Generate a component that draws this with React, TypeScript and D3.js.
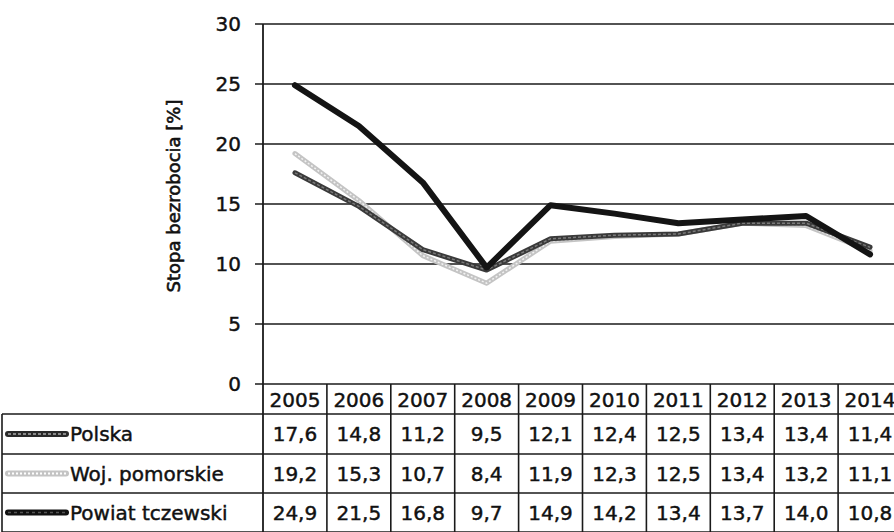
import React from "react";
import * as d3 from "d3";

const years = ["2005", "2006", "2007", "2008", "2009", "2010", "2011", "2012", "2013", "2014"];
const polska = [17.6, 14.8, 11.2, 9.5, 12.1, 12.4, 12.5, 13.4, 13.4, 11.4];
const pomorskie = [19.2, 15.3, 10.7, 8.4, 11.9, 12.3, 12.5, 13.4, 13.2, 11.1];
const tczewski = [24.9, 21.5, 16.8, 9.7, 14.9, 14.2, 13.4, 13.7, 14.0, 10.8];
const seriesNames = ["Polska", "Woj. pomorskie", "Powiat tczewski"];
const yTicks = [0, 5, 10, 15, 20, 25, 30];
const yTitle = "Stopa bezrobocia [%]";

const W = 894;
const H = 532;
const FONT = "'DejaVu Sans', Verdana, sans-serif";

export default function App() {
  const x0 = 263;
  const x1 = 902;
  const yTop = 24;
  const yBot = 384;
  const x = d3.scaleBand<string>().domain(years).range([x0, x1]);
  const y = d3.scaleLinear().domain([0, 30]).range([yBot, yTop]);
  const line = d3
    .line<number>()
    .x((_, i) => (x(years[i]) as number) + x.bandwidth() / 2)
    .y((d) => y(d));

  const headerBottom = 414;
  const rowBounds = [414, 454, 493, 532];
  const data = [polska, pomorskie, tczewski];
  const fmt = (v: number) => v.toFixed(1).replace(".", ",");
  const ink = "#1a1a1a";
  const txt = { fill: "#111", stroke: "#111", strokeWidth: 0.45 };

  const legendSample = (i: number, cy: number) => {
    const xa = 8;
    const xb = 66;
    if (i === 0)
      return (
        <g>
          <line x1={xa} x2={xb} y1={cy} y2={cy} stroke="#2a2a2a" strokeWidth={6} strokeLinecap="round" />
          <line x1={xa} x2={xb} y1={cy} y2={cy} stroke="#8a8a8a" strokeWidth={2} strokeDasharray="3,2" />
        </g>
      );
    if (i === 1)
      return (
        <g>
          <line x1={xa} x2={xb} y1={cy} y2={cy} stroke="#c4c4c4" strokeWidth={6} strokeLinecap="round" />
          <line x1={xa} x2={xb} y1={cy} y2={cy} stroke="#ffffff" strokeWidth={2} strokeDasharray="2,2" />
        </g>
      );
    return (
      <g>
        <line x1={xa} x2={xb} y1={cy} y2={cy} stroke="#111" strokeWidth={6} strokeLinecap="round" />
        <line x1={xa} x2={xb} y1={cy} y2={cy} stroke="#555" strokeWidth={1.5} strokeDasharray="3,3" />
      </g>
    );
  };

  return (
    <svg
      width={W}
      height={H}
      style={{ position: "absolute", left: 0, top: 0, background: "#fff" }}
      fontFamily={FONT}
    >
      {/* gridlines + ticks */}
      {yTicks.map((t) => (
        <g key={t}>
          <line x1={x0 - 8} x2={W} y1={y(t)} y2={y(t)} stroke={ink} strokeWidth={1.7} />
          <text x={241} y={y(t)} textAnchor="end" dominantBaseline="central" fontSize={20} {...txt}>
            {t}
          </text>
        </g>
      ))}
      {/* y axis */}
      <line x1={x0} x2={x0} y1={yTop} y2={H} stroke={ink} strokeWidth={1.8} />
      <text
        transform={`translate(173,196) rotate(-90)`}
        textAnchor="middle"
        dominantBaseline="central"
        fontSize={18}
        {...txt}
        strokeWidth={0.6}
      >
        {yTitle}
      </text>

      {/* series lines */}
      <path d={line(pomorskie) || ""} fill="none" stroke="#c4c4c4" strokeWidth={5} strokeLinejoin="round" strokeLinecap="round" />
      <path d={line(pomorskie) || ""} fill="none" stroke="#f2f2f2" strokeWidth={1.5} strokeDasharray="2,2" />
      <path d={line(polska) || ""} fill="none" stroke="#3a3a3a" strokeWidth={5} strokeLinejoin="round" strokeLinecap="round" />
      <path d={line(polska) || ""} fill="none" stroke="#7a7a7a" strokeWidth={1.5} strokeDasharray="3,2" />
      <path d={line(tczewski) || ""} fill="none" stroke="#141414" strokeWidth={6} strokeLinejoin="round" strokeLinecap="round" />

      {/* table: header row */}
      <line x1={x0} x2={W} y1={headerBottom} y2={headerBottom} stroke={ink} strokeWidth={1.6} />
      {years.map((yr) => (
        <g key={yr}>
          <line
            x1={(x(yr) as number) + x.bandwidth()}
            x2={(x(yr) as number) + x.bandwidth()}
            y1={yBot}
            y2={H}
            stroke={ink}
            strokeWidth={1.6}
          />
          <text
            x={(x(yr) as number) + x.bandwidth() / 2}
            y={(yBot + headerBottom) / 2 + 1}
            textAnchor="middle"
            dominantBaseline="central"
            fontSize={20}
            {...txt}
          >
            {yr}
          </text>
        </g>
      ))}
      {/* table: left column + rows */}
      <line x1={2} x2={2} y1={headerBottom} y2={H} stroke={ink} strokeWidth={1.6} />
      <line x1={2} x2={x0} y1={headerBottom} y2={headerBottom} stroke={ink} strokeWidth={1.6} />
      {rowBounds.slice(1).map((b, k) => (
        <line key={k} x1={2} x2={W} y1={b} y2={b} stroke={ink} strokeWidth={1.6} />
      ))}
      {seriesNames.map((name, i) => {
        const cy = (rowBounds[i] + rowBounds[i + 1]) / 2;
        return (
          <g key={name}>
            {legendSample(i, cy)}
            <text x={70} y={cy} dominantBaseline="central" fontSize={20} {...txt}>
              {name}
            </text>
            {data[i].map((v, j) => (
              <text
                key={j}
                x={(x(years[j]) as number) + x.bandwidth() / 2}
                y={cy}
                textAnchor="middle"
                dominantBaseline="central"
                fontSize={20}
                {...txt}
              >
                {fmt(v)}
              </text>
            ))}
          </g>
        );
      })}
    </svg>
  );
}
